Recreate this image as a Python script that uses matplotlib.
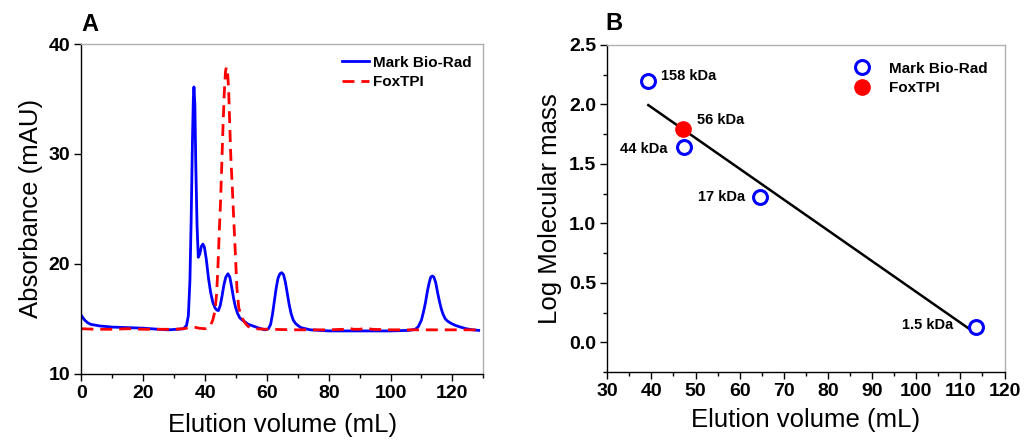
import numpy as np
import matplotlib
matplotlib.use("Agg")
from matplotlib import pyplot as plt
from matplotlib.ticker import MultipleLocator

plt.rcParams['font.family'] = ['Liberation Sans', 'DejaVu Sans']

# --- panel A: chromatograms ---
bio_x = [0, 1, 2, 3, 4, 6, 8, 10, 15, 20, 25, 28, 31, 33, 34, 34.6, 35.1, 35.5, 35.9, 36.2,
         36.4, 36.7, 37.0, 37.4, 37.8, 38.3, 38.8, 39.3, 39.8, 40.4, 41.1, 41.8, 42.5, 43.2,
         43.8, 44.3, 44.9, 45.5, 46.1, 46.7, 47.4, 48.0, 48.6, 49.2, 49.8, 50.5, 51.2, 52, 53,
         54, 55, 56, 57.5, 59.4, 60.5, 61.2, 61.8, 62.4, 63, 63.6, 64.2, 64.8, 65.4, 66, 66.6,
         67.2, 67.8, 68.5, 69.2, 70, 71, 72.5, 74, 77, 80, 90, 100, 106, 108, 109, 110, 110.7,
         111.3, 111.9, 112.5, 113, 113.5, 114, 114.6, 115.2, 115.8, 116.4, 117.0, 117.7, 118.4,
         119.5, 121, 122.6, 124.5, 126.5, 128.5]
bio_y = [15.3, 14.9, 14.65, 14.5, 14.45, 14.35, 14.3, 14.25, 14.2, 14.15, 14.05, 14.0, 14.05,
         14.1, 14.4, 15.3, 18.5, 24.0, 31.0, 35.0, 36.1, 34.5, 29.0, 23.5, 20.6, 20.9, 21.6,
         21.8, 21.5, 20.4, 18.7, 17.4, 16.5, 16.0, 15.8, 15.75, 16.2, 17.1, 18.1, 18.8, 19.1,
         18.8, 17.9, 16.9, 16.1, 15.5, 15.1, 14.9, 14.7, 14.5, 14.4, 14.3, 14.15, 14.0, 14.1,
         14.5, 15.4, 16.6, 17.8, 18.7, 19.1, 19.2, 19.0, 18.3, 17.3, 16.3, 15.5, 14.9, 14.6,
         14.4, 14.2, 14.1, 14.0, 13.95, 13.9, 13.9, 13.9, 13.95, 14.05, 14.3, 14.9, 15.7, 16.5,
         17.5, 18.3, 18.8, 18.9, 18.8, 18.3, 17.4, 16.6, 15.9, 15.4, 15.0, 14.8, 14.6, 14.4,
         14.25, 14.1, 14.0, 13.95]

fox_x = [0, 5, 10, 15, 20, 25, 30, 33, 35, 36.5, 38, 40, 41, 41.8, 42.5, 43.2, 43.7, 44.1,
         44.6, 45.0, 45.4, 45.8, 46.2, 46.6, 46.9, 47.2, 47.6, 48.0, 48.3, 48.8, 49.2, 49.7,
         50.3, 50.9, 51.9, 53, 54, 56, 60, 70, 80, 85, 86.5, 88, 90, 92, 94, 100, 110, 120, 129]
fox_y = [14.1, 14.05, 14.05, 14.1, 14.05, 14.05, 14.05, 14.1, 14.2, 14.25, 14.15, 14.1, 14.15,
         14.4, 14.9, 15.7, 17.2, 19.3, 23.0, 25.6, 29.0, 32.5, 35.5, 37.5, 37.9, 37.7, 36.0,
         32.5, 29.9, 27.0, 24.5, 21.5, 17.8, 16.0, 15.1, 14.6, 14.3, 14.1, 14.05, 14.0, 14.0,
         14.05, 14.15, 14.05, 14.05, 14.15, 14.05, 14.0, 14.0, 14.0, 14.0]

# --- panel B: calibration ---
std_vol = [39.3, 47.4, 64.7, 113.5]
std_logmw = [2.20, 1.64, 1.22, 0.13]
std_names = ["158 kDa", "44 kDa", "17 kDa", "1.5 kDa"]
fox_vol = [47.1]
fox_logmw = [1.79]
fox_name = "56 kDa"

BLUE = "#0000ff"
RED = "#ff0000"
TICK_FS = 14
LABEL_FS = 18.5

fig = plt.figure(figsize=(10.24, 4.45), dpi=100)
axA = fig.add_axes([0.0795, 0.160, 0.3925, 0.741])
axB = fig.add_axes([0.593, 0.164, 0.388, 0.735])

for ax in (axA, axB):
    for side in ("top", "right"):
        ax.spines[side].set_color("#b0b0b0")
    for side in ("left", "bottom"):
        ax.spines[side].set_color("black")
    for s in ax.spines.values():
        s.set_linewidth(1.0)
    ax.tick_params(which="major", direction="out", length=5, width=1, labelsize=TICK_FS, pad=3)
    ax.tick_params(which="minor", direction="out", length=3, width=1)

# panel A
axA.plot(bio_x, bio_y, color=BLUE, lw=2.0, label="Mark Bio-Rad")
axA.plot(fox_x, fox_y, color=RED, lw=2.0, dashes=(4.3, 2.5), label="FoxTPI")
axA.set_xlim(0, 130)
axA.set_ylim(10, 40)
axA.xaxis.set_major_locator(MultipleLocator(20))
axA.xaxis.set_minor_locator(MultipleLocator(10))
axA.yaxis.set_major_locator(MultipleLocator(10))
axA.set_xlabel("Elution volume (mL)", fontsize=LABEL_FS, labelpad=8)
axA.set_ylabel("Absorbance (mAU)", fontsize=LABEL_FS, labelpad=4)
axA.legend(loc="upper right", frameon=False, prop={"weight": "bold", "size": 11},
           handlelength=1.8, handletextpad=0.25, labelspacing=0.35,
           borderaxespad=0.35, borderpad=0.4)
axA.text(0.0, 1.025, "A", transform=axA.transAxes, fontsize=17, fontweight="bold",
         va="bottom", ha="left")

# panel B
coef = np.polyfit(std_vol, std_logmw, 1)
fit_x = np.array([min(std_vol), max(std_vol) - 1.0])
axB.plot(fit_x, np.polyval(coef, fit_x), color="black", lw=1.8)
axB.plot(std_vol, std_logmw, "o", ms=10, mfc="white", mec=BLUE, mew=2.2,
         label="Mark Bio-Rad", linestyle="none")
axB.plot(fox_vol, fox_logmw, "o", ms=11, color=RED, label="FoxTPI", linestyle="none")
offsets = [(9, 3, "left"), (-12, -1, "right"), (-11, 0, "right"), (-16, 1, "right")]
for x, y, name, (dx, dy, ha) in zip(std_vol, std_logmw, std_names, offsets):
    axB.annotate(name, (x, y), xytext=(dx, dy), textcoords="offset points",
                 ha=ha, va="center", fontsize=10.5, fontweight="bold")
axB.annotate(fox_name, (fox_vol[0], fox_logmw[0]), xytext=(10, 7), textcoords="offset points",
             ha="left", va="center", fontsize=10.5, fontweight="bold")
axB.set_xlim(30, 120)
axB.set_ylim(-0.25, 2.5)
axB.xaxis.set_major_locator(MultipleLocator(10))
axB.xaxis.set_minor_locator(MultipleLocator(5))
axB.yaxis.set_major_locator(MultipleLocator(0.5))
axB.yaxis.set_minor_locator(MultipleLocator(0.25))
axB.yaxis.set_major_formatter(matplotlib.ticker.FormatStrFormatter("%.1f"))
axB.set_xlabel("Elution volume (mL)", fontsize=LABEL_FS, labelpad=6)
axB.set_ylabel("Log Molecular mass", fontsize=LABEL_FS, labelpad=5)
axB.legend(loc="upper right", frameon=False, prop={"weight": "bold", "size": 11},
           handletextpad=0.8, labelspacing=0.35, borderaxespad=0.5, borderpad=0.6)
axB.text(-0.005, 1.03, "B", transform=axB.transAxes, fontsize=17, fontweight="bold",
         va="bottom", ha="left")

for ax in (axA, axB):
    for lab in ax.get_xticklabels() + ax.get_yticklabels():
        lab.set_fontweight("bold")

fig.savefig("out.png", dpi=100)
